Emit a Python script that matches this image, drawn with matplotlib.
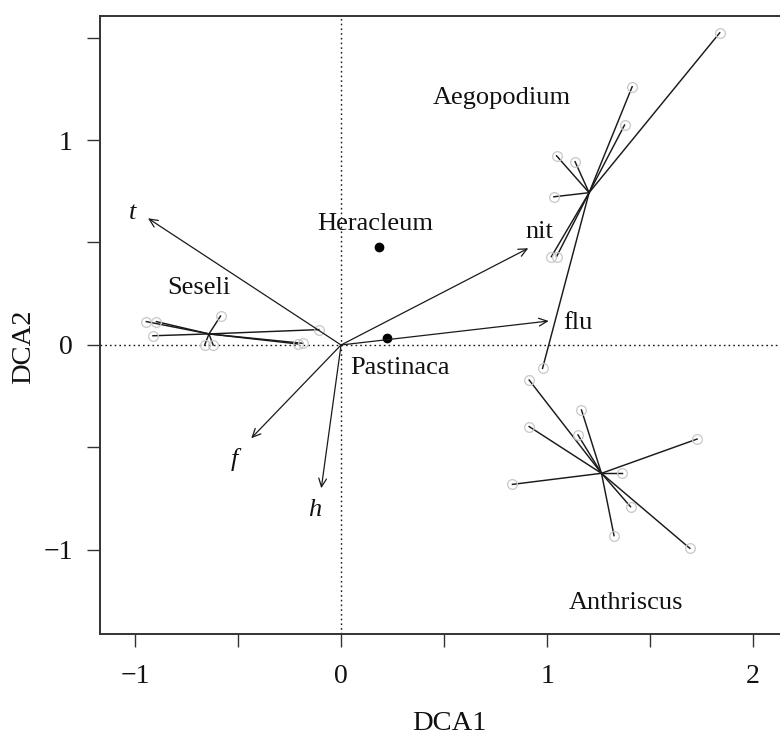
import matplotlib
matplotlib.use("Agg")
import matplotlib.pyplot as plt

plt.rcParams['font.family'] = ['Liberation Serif', 'DejaVu Serif']
plt.rcParams['mathtext.fontset'] = 'stix'

# ---- data (DCA scores) ----
seseli_x = [-0.945, -0.896, -0.913, -0.585, -0.662, -0.621, -0.209, -0.184, -0.108]
seseli_y = [0.114, 0.114, 0.045, 0.141, 0.000, 0.000, 0.005, 0.008, 0.075]
seseli_centre = (-0.641, 0.054)

aegopodium_x = [1.838, 1.413, 1.376, 1.046, 1.136, 1.033, 1.021, 1.046, 0.978]
aegopodium_y = [1.523, 1.260, 1.073, 0.923, 0.894, 0.723, 0.431, 0.431, -0.114]
aegopodium_centre = (1.204, 0.743)

anthriscus_x = [0.913, 1.167, 0.913, 1.150, 1.728, 0.832, 1.366, 1.405, 1.325, 1.693]
anthriscus_y = [-0.171, -0.317, -0.398, -0.439, -0.459, -0.680, -0.626, -0.789, -0.930, -0.992]
anthriscus_centre = (1.264, -0.626)

single_names = ["Heracleum", "Pastinaca"]
single_x = [0.183, 0.223]
single_y = [0.477, 0.036]

group_names = ["Seseli", "Aegopodium", "Anthriscus"]
group_label_x = [-0.69, 0.78, 1.381]
group_label_y = [0.278, 1.205, -1.259]
single_label_x = [0.165, 0.284]
single_label_y = [0.59, -0.112]

env_names = ["t", "nit", "flu", "f", "h"]
env_x = [-0.937, 0.909, 1.008, -0.436, -0.096]
env_y = [0.618, 0.472, 0.117, -0.455, -0.699]
env_label_x = [-1.012, 0.963, 1.148, -0.517, -0.129]
env_label_y = [0.644, 0.551, 0.107, -0.561, -0.805]
env_italic = [True, False, False, True, True]

x_ticks = [-1, -0.5, 0, 0.5, 1, 1.5, 2]
x_ticklabels = ["\u22121", "", "0", "", "1", "", "2"]
y_ticks = [-1, -0.5, 0, 0.5, 1, 1.5]
y_ticklabels = ["\u22121", "", "0", "", "1", ""]

# ---- figure ----
W, H = 780, 740
fig = plt.figure(figsize=(7.8, 7.4), dpi=100)
ax = fig.add_axes([100 / W, (H - 634) / H, 684 / W, 618 / H])
ax.set_xlim(-1.17, 2.15)
ax.set_ylim(-1.41, 1.605)

ink = '#1a1a1a'
ax.axhline(0, color=ink, lw=1.0, ls=(0, (1.2, 2.2)), zorder=1)
ax.axvline(0, color=ink, lw=1.0, ls=(0, (1.2, 2.2)), zorder=1)

groups = [(seseli_x, seseli_y, seseli_centre),
          (aegopodium_x, aegopodium_y, aegopodium_centre),
          (anthriscus_x, anthriscus_y, anthriscus_centre)]
for gx, gy, (cx, cy) in groups:
    for px, py in zip(gx, gy):
        ax.plot([cx, px], [cy, py], color=ink, lw=1.05, zorder=2)
    ax.plot(gx, gy, 'o', ms=7, mfc='none', mec='#c8c8c8', mew=0.9, zorder=3)

ax.plot(single_x, single_y, 'o', ms=6, color='black', zorder=4)

for ex, ey in zip(env_x, env_y):
    ax.annotate("", xy=(ex, ey), xytext=(0, 0),
                arrowprops=dict(arrowstyle='->,head_length=0.6,head_width=0.28',
                                color=ink, lw=0.9, shrinkA=0, shrinkB=0),
                zorder=5)

fs = 19
for name, lx, ly, it in zip(env_names, env_label_x, env_label_y, env_italic):
    ax.text(lx, ly, name, ha='center', va='center', fontsize=fs,
            style='italic' if it else 'normal', color='#111111')
for name, lx, ly in zip(group_names, group_label_x, group_label_y):
    ax.text(lx, ly, name, ha='center', va='center', fontsize=fs, color='#111111')
for name, lx, ly in zip(single_names, single_label_x, single_label_y):
    ax.text(lx, ly, name, ha='center', va='center', fontsize=fs, color='#111111')

ax.set_xticks(x_ticks)
ax.set_xticklabels(x_ticklabels)
ax.set_yticks(y_ticks)
ax.set_yticklabels(y_ticklabels)
ax.tick_params(direction='out', length=9.5, width=1.0, colors='#333333',
               labelsize=20, labelcolor='#111111')
ax.tick_params(axis='x', pad=12)
ax.tick_params(axis='y', pad=10)
for s in ax.spines.values():
    s.set_linewidth(1.4)
    s.set_color('#333333')

ax.set_xlabel("DCA1", fontsize=20.5, color='#111111')
ax.set_ylabel("DCA2", fontsize=20.5, color='#111111')
ax.xaxis.set_label_coords((449 - 100) / 684, (634 - 724) / 618)
ax.xaxis.label.set_va('center')
ax.yaxis.set_label_coords((24 - 100) / 684, (634 - 347) / 618)
ax.yaxis.label.set_va('center')

fig.savefig("out.png", dpi=100)
